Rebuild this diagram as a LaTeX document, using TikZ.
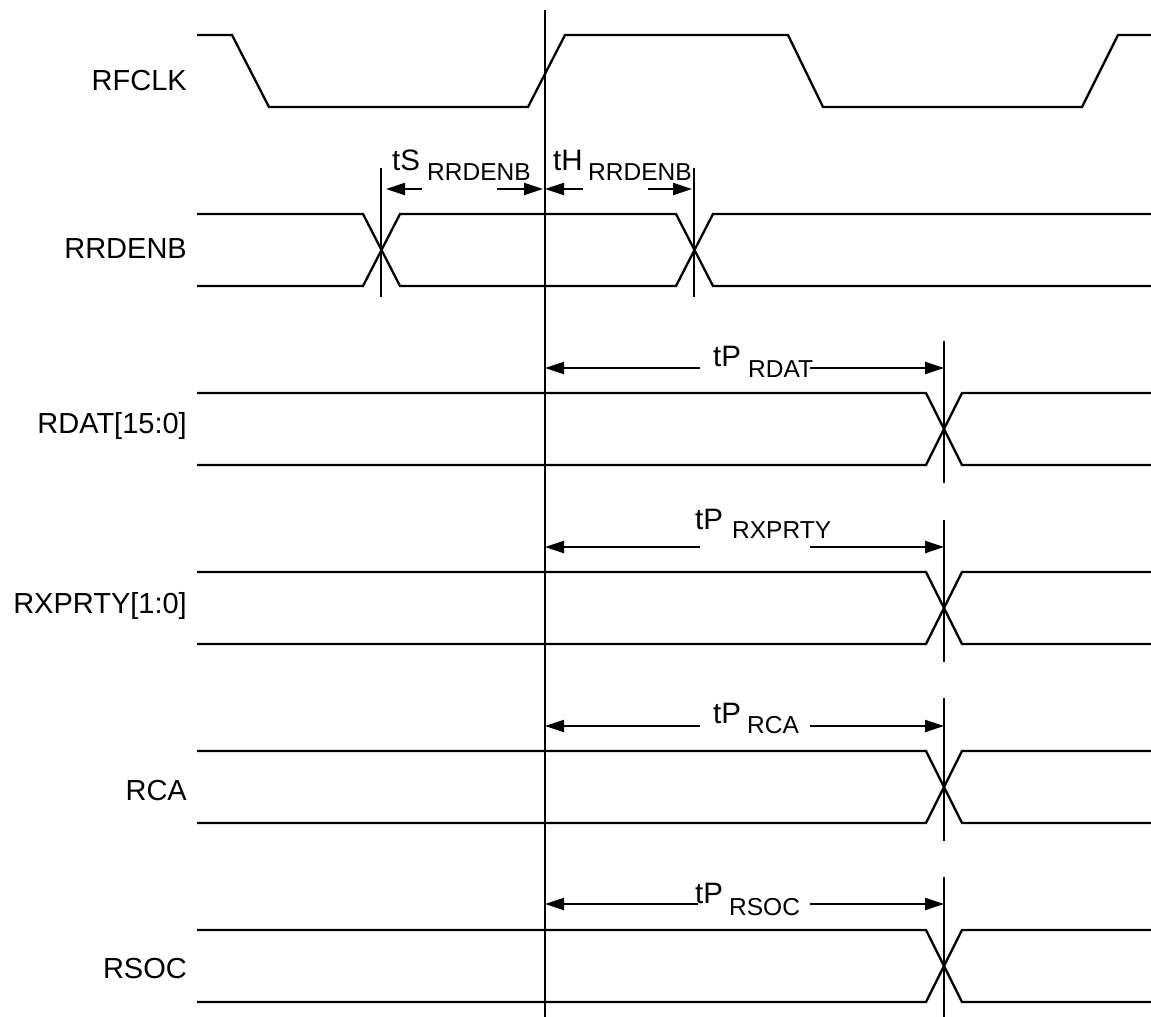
\documentclass[tikz,border=0pt]{standalone}
\usepackage{fontspec}
\setmainfont{Liberation Sans}
\usetikzlibrary{arrows.meta}
\begin{document}
\begin{tikzpicture}[x=1pt,y=-1pt,
  wire/.style={line width=2.3pt},
  sig/.style={font=\fontsize{29}{34}\selectfont, anchor=base east, inner sep=0pt},
  tlab/.style={font=\fontsize{29.5}{34}\selectfont, anchor=base west, inner sep=0pt},
  sublab/.style={font=\fontsize{24.5}{28}\selectfont, anchor=base west, inner sep=0pt},
  dimarr/.style={line width=2.3pt, -{Triangle[length=19pt,width=12pt]}}]
\useasboundingbox (0,0) rectangle (1151,1017);
% signal names
\node[sig] (nRFCLK)  at (187,90)  {RFCLK};
\node[sig] (nRRDENB) at (187,258) {RRDENB};
\node[sig] (nRDAT)   at (187,433) {RDAT[15:0]};
\node[sig] (nRXPRTY) at (187,613) {RXPRTY[1:0]};
\node[sig] (nRCA)    at (187,800) {RCA};
\node[sig] (nRSOC)   at (187,978) {RSOC};
% clock
\draw[wire] (197,35) -- (232,35) -- (269,107) -- (528,107) -- (565,35) -- (788,35)
  -- (823,107) -- (1082,107) -- (1118,35) -- (1151,35);
% RRDENB bus
\draw[wire] (197,214) -- (363,214) -- (400,286) -- (676,286) -- (713,214) -- (1151,214);
\draw[wire] (197,286) -- (363,286) -- (400,214) -- (676,214) -- (713,286) -- (1151,286);
% data buses
\foreach \t/\b in {393/465, 572/644, 751/823, 930/1002}{
  \draw[wire] (197,\t) -- (926,\t) -- (962,\b) -- (1151,\b);
  \draw[wire] (197,\b) -- (926,\b) -- (962,\t) -- (1151,\t);
}
% reference line
\draw[wire] (545,10) -- (545,1017);
% setup/hold markers
\draw[wire] (381,168) -- (381,297);
\draw[wire] (694,168) -- (694,297);
\coordinate (sA) at (381,189);
\coordinate (sB) at (694,189);
\coordinate (sR) at (545,189);
\draw[dimarr] (422,189) -- ([xshift=5pt]sA);
\draw[dimarr] (497,189) -- ([xshift=-2pt]sR);
\draw[dimarr] (583,189) -- (sR);
\draw[dimarr] (648,189) -- ([xshift=-2pt]sB);
\node[tlab] (tS) at (392,170) {tS};
\node[sublab] (tSs) at (427,180) {RRDENB};
\node[tlab] (tH) at (553,170) {tH};
\node[sublab] (tHs) at (588,180) {RRDENB};
% propagation markers
\draw[wire] (944,341) -- (944,483);
\draw[wire] (944,520) -- (944,662);
\draw[wire] (944,698) -- (944,841);
\draw[wire] (944,877) -- (944,1017);
\foreach \y/\xl in {368/700, 547/700, 726/700, 904/698}{
  \coordinate (L\y) at (545,\y);
  \coordinate (R\y) at (944,\y);
  \draw[dimarr] (\xl,\y) -- (L\y);
  \draw[dimarr] (810,\y) -- (R\y);
}
\node[tlab] (tP1) at (713,366) {tP};
\node[sublab] (tP1s) at (748,377) {RDAT};
\node[tlab] (tP2) at (695,529) {tP};
\node[sublab] (tP2s) at (732,538) {RXPRTY};
\node[tlab] (tP3) at (713,723) {tP};
\node[sublab] (tP3s) at (747,733) {RCA};
\node[tlab] (tP4) at (695,903) {tP};
\node[sublab] (tP4s) at (729,915) {RSOC};
\end{tikzpicture}
\end{document}
